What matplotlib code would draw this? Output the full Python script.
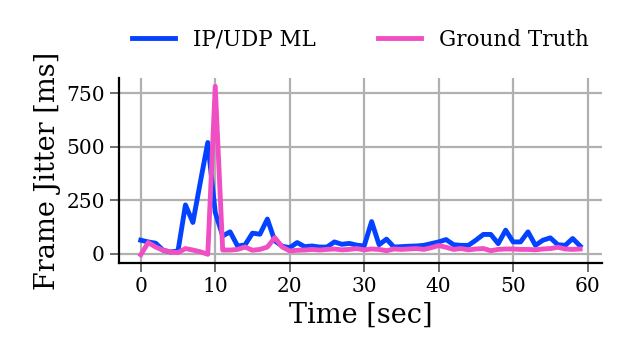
import numpy as np
import matplotlib
matplotlib.use("Agg")
from matplotlib import pyplot as plt

# seconds 0..59
time_sec = list(range(60))

ipudp_ml = [63, 55, 49, 16, 8, 13, 228, 146, 335, 520,
            193, 83, 102, 36, 41, 96, 91, 162, 60, 35,
            28, 52, 33, 36, 31, 31, 55, 44, 48, 40,
            36, 150, 42, 68, 31, 33, 35, 36, 39, 47,
            55, 66, 42, 39, 39, 63, 90, 90, 47, 110,
            55, 55, 102, 39, 63, 74, 42, 39, 71, 36]

ground_truth = [-5, 52, 31, 16, 8, 5, 24, 17, 9, -3,
                783, 17, 17, 20, 31, 16, 20, 31, 75, 31,
                13, 16, 17, 20, 17, 20, 22, 18, 20, 24,
                18, 22, 20, 14, 22, 20, 22, 24, 20, 28,
                38, 30, 20, 24, 18, 22, 24, 14, 20, 22,
                22, 20, 20, 18, 22, 24, 30, 22, 20, 22]

plt.rcParams['font.family'] = 'DejaVu Serif'

fig = plt.figure(figsize=(6.22, 3.62), dpi=100)
ax = fig.add_axes([0.191, 0.273, 0.777, 0.512])

ax.plot(time_sec, ipudp_ml, color='#0343ff', lw=3.5, label='IP/UDP ML', zorder=3)
ax.plot(time_sec, ground_truth, color='#f04fc4', lw=3.5, label='Ground Truth', zorder=4)

ax.set_xticks([0, 10, 20, 30, 40, 50, 60])
ax.set_yticks([0, 250, 500, 750])
ax.grid(True, color='#b0b0b0', lw=1.6)
ax.set_axisbelow(True)

for s in ['top', 'right']:
    ax.spines[s].set_visible(False)
for s in ['left', 'bottom']:
    ax.spines[s].set_linewidth(1.6)
    ax.spines[s].set_color('black')

ax.tick_params(axis='both', labelsize=14.5, length=6.5, width=1.2, color='#555555')
ax.set_xlabel('Time [sec]', fontsize=19.5)
ax.set_ylabel('Frame Jitter [ms]', fontsize=19.5)

ax.legend(loc='lower center', bbox_to_anchor=(0.5, 1.065), ncol=2, frameon=False,
          fontsize=15.5, handlelength=2.0, columnspacing=2.9, handletextpad=0.85,
          borderpad=0.2)

fig.savefig('out.png', dpi=100)
